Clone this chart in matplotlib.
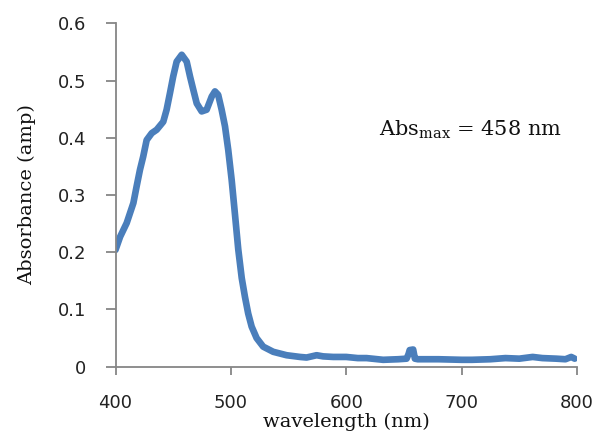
import matplotlib
matplotlib.use('Agg')
import matplotlib.pyplot as plt

# 吸收光谱数据
wavelength = [400, 404, 409.7, 415.5, 418.3, 421.2, 424, 427, 431.4, 435.7,
              441.4, 444.3, 447.2, 450, 453, 457.4, 461.7, 464.6, 467.4, 470.4,
              474.7, 479, 483.4, 486.2, 489, 492, 494.9, 497.7, 500.7, 503.6,
              506.4, 509.4, 512.2, 515, 518, 522.3, 528, 536.7, 548.3, 560,
              565.6, 570, 574.3, 580, 588.7, 600, 610, 617.6, 632, 645,
              652.3, 654, 655, 658, 659.5, 662, 680, 700, 709, 725,
              738, 750, 761.6, 770, 782, 790, 795, 798]
absorbance = [0.204, 0.227, 0.251, 0.286, 0.315, 0.344, 0.367, 0.396, 0.408, 0.414,
              0.428, 0.449, 0.478, 0.507, 0.533, 0.545, 0.533, 0.507, 0.484, 0.460,
              0.446, 0.449, 0.472, 0.481, 0.475, 0.449, 0.420, 0.379, 0.326, 0.265,
              0.205, 0.155, 0.122, 0.093, 0.070, 0.050, 0.035, 0.026, 0.020, 0.017,
              0.016, 0.018, 0.020, 0.018, 0.017, 0.017, 0.015, 0.015, 0.012, 0.013,
              0.014, 0.022, 0.029, 0.030, 0.014, 0.013, 0.013, 0.012, 0.012, 0.013,
              0.015, 0.014, 0.017, 0.015, 0.014, 0.013, 0.017, 0.014]

x_ticks = [400, 500, 600, 700, 800]
y_ticks = [0, 0.1, 0.2, 0.3, 0.4, 0.5, 0.6]
y_tick_labels = ['0', '0.1', '0.2', '0.3', '0.4', '0.5', '0.6']

fig = plt.figure(figsize=(5.96, 4.36), dpi=100)
ax = fig.add_axes([0.1938, 0.159, 0.7743, 0.7876])

ax.plot(wavelength, absorbance, color='#4a7ebb', linewidth=4.8,
        solid_capstyle='round', solid_joinstyle='round')

ax.set_xlim(400, 800)
ax.set_ylim(0, 0.6)
ax.set_xticks(x_ticks)
ax.set_yticks(y_ticks)
ax.set_yticklabels(y_tick_labels)

for side in ['top', 'right']:
    ax.spines[side].set_visible(False)
for side in ['left', 'bottom']:
    ax.spines[side].set_color('#868686')
    ax.spines[side].set_linewidth(1.3)

ax.tick_params(axis='x', direction='out', length=6, width=1.3, color='#868686',
               pad=14, labelsize=13, labelcolor='#222222')
ax.tick_params(axis='y', direction='out', length=7, width=1.3, color='#868686',
               pad=14, labelsize=13, labelcolor='#222222')

serif = 'DejaVu Serif'
ax.set_xlabel('wavelength (nm)', fontsize=14, family=serif, labelpad=0,
              color='#111111')
ax.set_ylabel('Absorbance (amp)', fontsize=14, family=serif, labelpad=16,
              color='#111111')

ax.text(628, 0.414, r'Abs$_{\mathregular{max}}$ = 458 nm', fontsize=15,
        family=serif, ha='left', va='center', color='#111111')

fig.savefig('out.png', dpi=100)
